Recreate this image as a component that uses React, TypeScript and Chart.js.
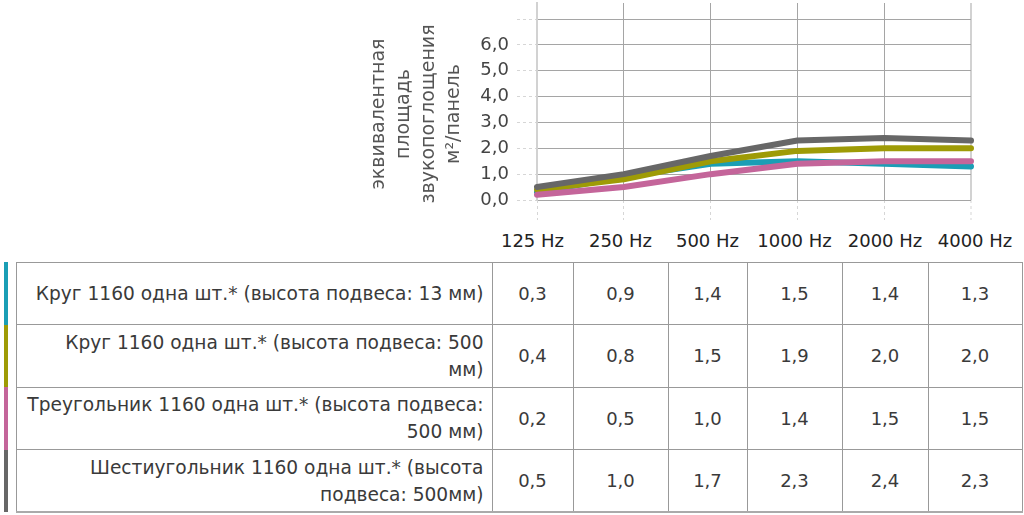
import React, { useEffect, useRef } from "react";
import { Chart, registerables } from "chart.js";

Chart.register(...registerables);

// ---- data ----
const categories = ["125 Hz", "250 Hz", "500 Hz", "1000 Hz", "2000 Hz", "4000 Hz"];
const seriesNames = [
  "Круг 1160 одна шт.* (высота подвеса: 13 мм)",
  "Круг 1160 одна шт.* (высота подвеса: 500\nмм)",
  "Треугольник 1160 одна шт.* (высота подвеса:\n500 мм)",
  "Шестиугольник 1160 одна шт.* (высота\nподвеса: 500мм)",
];
const seriesColors = ["#1a9eb5", "#9e9b06", "#c4659a", "#676767"];
const krug13 = [0.3, 0.9, 1.4, 1.5, 1.4, 1.3];
const krug500 = [0.4, 0.8, 1.5, 1.9, 2.0, 2.0];
const treugolnik500 = [0.2, 0.5, 1.0, 1.4, 1.5, 1.5];
const shestiugolnik500 = [0.5, 1.0, 1.7, 2.3, 2.4, 2.3];
const yTickValues = [0, 1, 2, 3, 4, 5, 6, 7];
const yTitleLines = ["эквивалентная", "площадь", "звукопоглощения", "м²/панель"];

const seriesValues = [krug13, krug500, treugolnik500, shestiugolnik500];

const fmt = (v: number) => v.toFixed(1).replace(".", ",");

const FONT = "'DejaVu Sans', sans-serif";

export default function App() {
  const canvasRef = useRef<HTMLCanvasElement | null>(null);

  useEffect(() => {
    if (!canvasRef.current) return;
    const last = categories.length - 1;
    const chart = new Chart(canvasRef.current, {
      type: "line",
      data: {
        labels: categories,
        datasets: seriesValues.map((vals, i) => ({
          label: seriesNames[i],
          data: vals,
          borderColor: seriesColors[i],
          backgroundColor: seriesColors[i],
          borderWidth: 6,
          pointRadius: 0,
          pointHoverRadius: 0,
          tension: 0,
          fill: false,
          borderCapStyle: "round" as const,
          borderJoinStyle: "round" as const,
          order: seriesValues.length - i,
        })),
      },
      options: {
        animation: false,
        responsive: false,
        maintainAspectRatio: false,
        layout: { padding: { left: 477, right: 53, top: 3, bottom: 0 }, autoPadding: false },
        plugins: {
          legend: { display: false },
          tooltip: { enabled: false },
          title: { display: false },
        },
        scales: {
          x: {
            type: "category",
            offset: false,
            border: { display: false },
            grid: {
              color: (ctx: any) => (ctx.index === last || ctx.index === 0 ? "#d2d2d2" : "#a5a5a5"),
              lineWidth: (ctx: any) => (ctx.index === last ? 2 : 1),
              drawTicks: true,
              tickLength: 20,
              tickColor: "#d6d6d6",
              tickWidth: 1,
              tickBorderDash: [3, 3],
            },
            ticks: { display: false },
            afterFit: (s: any) => {
              s.height = 22;
              s.paddingLeft = 0;
              s.paddingRight = 0;
              s.paddingTop = 0;
              s.paddingBottom = 0;
            },
          },
          y: {
            min: 0,
            max: 7.62,
            afterBuildTicks: (s: any) => {
              s.ticks = yTickValues.map((v) => ({ value: v }));
            },
            border: { display: true, color: "#d2d2d2", width: 2 },
            grid: {
              color: "#a5a5a5",
              lineWidth: 1,
              drawTicks: true,
              tickLength: 20,
              tickColor: "#d6d6d6",
              tickWidth: 1,
              tickBorderDash: [3, 3],
            },
            ticks: {
              padding: 8,
              color: "#444",
              font: { family: FONT, size: 18 },
              callback: (v: any) => (Number(v) === 7 ? "" : fmt(Number(v))),
            },
            afterFit: (s: any) => {
              s.width = 60;
              s.paddingLeft = 0;
              s.paddingRight = 0;
              s.paddingTop = 0;
              s.paddingBottom = 0;
            },
          },
        },
      },
    } as any);
    return () => chart.destroy();
  }, []);

  const colWidths = [81, 95, 79, 95, 86, 94];
  const cellBorder = "1px solid #999";

  return (
    <div style={{ position: "absolute", left: 0, top: 0, width: 1024, height: 515, background: "#fff", overflow: "hidden" }}>
      <canvas
        ref={canvasRef}
        width={1024}
        height={222}
        style={{ position: "absolute", left: 0, top: 0, width: 1024, height: 222, display: "block" }}
      />
      <div
        style={{
          position: "absolute",
          left: 315,
          top: 64,
          width: 200,
          height: 100,
          transform: "rotate(-90deg)",
          textAlign: "center",
          fontFamily: FONT,
          fontSize: 19,
          lineHeight: "25px",
          color: "#555",
          whiteSpace: "nowrap",
        }}
      >
        {yTitleLines.map((l, i) => (
          <div key={i}>{l}</div>
        ))}
      </div>
      <table
        style={{
          position: "absolute",
          left: 0,
          top: 222,
          width: 16 + 476 + colWidths.reduce((a, b) => a + b, 0),
          borderCollapse: "collapse",
          tableLayout: "fixed",
          fontFamily: FONT,
          fontSize: 18,
          color: "#3a3a3a",
        }}
      >
        <colgroup>
          <col style={{ width: 16 }} />
          <col style={{ width: 476 }} />
          {colWidths.map((w, i) => (
            <col key={i} style={{ width: w }} />
          ))}
        </colgroup>
        <thead>
          <tr style={{ height: 40 }}>
            <th style={{ padding: 0 }} />
            <th style={{ padding: 0 }} />
            {categories.map((c, i) => (
              <th
                key={i}
                style={{
                  padding: 0,
                  paddingTop: 8,
                  verticalAlign: "top",
                  fontWeight: 400,
                  textAlign: "center",
                  whiteSpace: "nowrap",
                  color: "#222",
                }}
              >
                {c}
              </th>
            ))}
          </tr>
        </thead>
        <tbody>
          {seriesValues.map((vals, r) => {
            const col = seriesColors[r];
            const isLast = r === seriesValues.length - 1;
            const bb = isLast ? "2px solid #aaa" : cellBorder;
            return (
              <tr key={r} style={{ height: 62.5 }}>
                <td
                  style={{
                    padding: 0,
                    background: `linear-gradient(to right, transparent 4px, ${col} 4px, ${col} 8px, transparent 8px)`,
                  }}
                />
                <td
                  style={{
                    border: cellBorder,
                    borderBottom: bb,
                    textAlign: "right",
                    padding: "0 8px 0 0",
                    whiteSpace: "pre",
                    lineHeight: "27px",
                    fontSize: 18.6,
                  }}
                >
                  {seriesNames[r]}
                </td>
                {vals.map((v, i) => (
                  <td
                    key={i}
                    style={{ border: cellBorder, borderBottom: bb, textAlign: "center", padding: 0 }}
                  >
                    {fmt(v)}
                  </td>
                ))}
              </tr>
            );
          })}
        </tbody>
      </table>
    </div>
  );
}
